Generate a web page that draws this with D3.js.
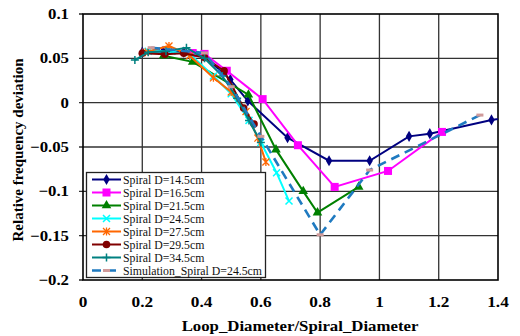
<!DOCTYPE html>
<html><head><meta charset="utf-8">
<script src="https://cdn.jsdelivr.net/npm/d3@7"></script>
<style>body{margin:0;background:#fff} text{font-family:"Liberation Serif","Times New Roman",Tinos,serif}</style>
</head><body><svg id="c" width="520" height="336"></svg>
<script>
const xTicks = [0, 0.2, 0.4, 0.6, 0.8, 1, 1.2, 1.4];
const yTicks = [0.1, 0.05, 0, -0.05, -0.1, -0.15, -0.2];
const seriesNames = ["Spiral D=14.5cm","Spiral D=16.5cm","Spiral D=21.5cm","Spiral D=24.5cm","Spiral D=27.5cm","Spiral D=29.5cm","Spiral D=34.5cm","Simulation_Spiral D=24.5cm"];
const s145x = [0.2, 0.27, 0.34, 0.41, 0.497, 0.556, 0.69, 0.83, 0.967, 1.10, 1.17, 1.378, 1.45];
const s145y = [0.057, 0.058, 0.057, 0.052, 0.026, 0.002, -0.0395, -0.0655, -0.0655, -0.038, -0.035, -0.0195, -0.016];
const s165x = [0.37, 0.41, 0.485, 0.606, 0.725, 0.849, 1.029, 1.211];
const s165y = [0.056, 0.055, 0.036, 0.004, -0.048, -0.095, -0.077, -0.033];
const s215x = [0.272, 0.37, 0.558, 0.651, 0.743, 0.791, 0.93];
const s215y = [0.053, 0.046, 0.009, -0.053, -0.1, -0.124, -0.095];
const s245x = [0.22, 0.3, 0.37, 0.44, 0.5, 0.56, 0.6, 0.653, 0.695];
const s245y = [0.058, 0.058, 0.052, 0.03, 0.01, -0.02, -0.045, -0.079, -0.111];
const s275x = [0.21, 0.29, 0.36, 0.44, 0.5, 0.55, 0.59, 0.617];
const s275y = [0.057, 0.064, 0.053, 0.028, 0.012, -0.01, -0.04, -0.067];
const s295x = [0.2, 0.276, 0.34, 0.41, 0.476, 0.542, 0.577];
const s295y = [0.0557, 0.0546, 0.0557, 0.051, 0.0358, -0.006, -0.024];
const s345x = [0.175, 0.22, 0.28, 0.349, 0.41, 0.47, 0.52, 0.56, 0.6];
const s345y = [0.048, 0.057, 0.058, 0.062, 0.05, 0.03, 0.005, -0.02, -0.045];
const simx = [0.23, 0.41, 0.5, 0.6, 0.8, 0.967, 1.339];
const simy = [0.062, 0.056, 0.018, -0.038, -0.149, -0.076, -0.014];

const colors = ["#000080","#FF00FF","#008000","#00FFFF","#FF6600","#800000","#008080","#1F7AC0"];
const shapes = ["diamond","square","triangle","x","asterisk","circle","plus","dash"];
const xs = [s145x,s165x,s215x,s245x,s275x,s295x,s345x,simx];
const ys = [s145y,s165y,s215y,s245y,s275y,s295y,s345y,simy];

const svg = d3.select("#c");
const L = 83, R = 498, T = 14, B = 280;
const x = d3.scaleLinear().domain([0, 1.4]).range([L, R]);
const y = d3.scaleLinear().domain([-0.2, 0.1]).range([B, T]);

// grid
const g = svg.append("g");
g.selectAll(".gx").data(xTicks.slice(1, -1)).join("line")
  .attr("x1", d => x(d)).attr("x2", d => x(d)).attr("y1", T).attr("y2", B)
  .attr("stroke", "#333").attr("stroke-width", 1.3);
g.selectAll(".gy").data(yTicks.slice(1, -1)).join("line")
  .attr("x1", L - 4).attr("x2", R).attr("y1", d => y(d)).attr("y2", d => y(d))
  .attr("stroke", "#333").attr("stroke-width", 1.3);
g.selectAll(".ty").data([0.1, -0.2]).join("line")
  .attr("x1", L - 4).attr("x2", L).attr("y1", d => y(d)).attr("y2", d => y(d))
  .attr("stroke", "#000").attr("stroke-width", 1.3);
g.append("rect").attr("x", L).attr("y", T).attr("width", R - L).attr("height", B - T)
  .attr("fill", "none").attr("stroke", "#000").attr("stroke-width", 1.6);

// axis labels (reference text is stretched horizontally)
svg.selectAll(".xl").data(xTicks).join("text")
  .attr("transform", d => `translate(${x(d)},307) scale(1.15,1)`).attr("text-anchor", "middle")
  .attr("font-weight", "bold").attr("font-size", 15)
  .text(d => d3.format("")(d));
svg.selectAll(".yl").data(yTicks).join("text")
  .attr("transform", d => `translate(69,${y(d) + 5}) scale(1.12,1)`).attr("text-anchor", "end")
  .attr("font-weight", "bold").attr("font-size", 15)
  .text(d => d3.format("")(d));
svg.append("text").attr("transform", `translate(300,331) scale(1.12,1)`).attr("text-anchor", "middle")
  .attr("font-weight", "bold").attr("font-size", 15)
  .text("Loop_Diameter/Spiral_Diameter");
svg.append("text").attr("transform", `translate(23,${(T + B) / 2 + 3}) rotate(-90)`)
  .attr("text-anchor", "middle")
  .attr("font-weight", "bold").attr("font-size", 15)
  .text("Relative frequency deviation");

svg.append("clipPath").attr("id", "clip").append("rect")
  .attr("x", L).attr("y", T).attr("width", R - L).attr("height", B - T);

function marker(sel, shape, color) {
  if (shape === "diamond") sel.append("path").attr("d", d3.symbol(d3.symbolDiamond, 36)()).attr("fill", color);
  else if (shape === "square") sel.append("rect").attr("x", -4).attr("y", -4).attr("width", 8).attr("height", 8).attr("fill", color);
  else if (shape === "triangle") sel.append("path").attr("d", d3.symbol(d3.symbolTriangle, 40)()).attr("fill", color);
  else if (shape === "circle") sel.append("circle").attr("r", 3.8).attr("fill", color);
  else if (shape === "x") sel.append("path").attr("d", "M-3.5,-3.5L3.5,3.5M-3.5,3.5L3.5,-3.5").attr("stroke", color).attr("stroke-width", 1.5);
  else if (shape === "plus") sel.append("path").attr("d", "M-4,0L4,0M0,-4L0,4").attr("stroke", color).attr("stroke-width", 1.5);
  else if (shape === "asterisk") sel.append("path").attr("d", "M-3.5,-3.5L3.5,3.5M-3.5,3.5L3.5,-3.5M0,-4L0,4").attr("stroke", color).attr("stroke-width", 1.3);
  else if (shape === "dash") sel.append("rect").attr("x", -3.5).attr("y", -1.5).attr("width", 7).attr("height", 3).attr("fill", "#D09A9A");
}

const line = d3.line().x(d => x(d[0])).y(d => y(d[1]));
const plot = svg.append("g").attr("clip-path", "url(#clip)");
xs.forEach((xa, i) => {
  const pts = xa.map((v, j) => [v, ys[i][j]]);
  plot.append("path").attr("d", line(pts)).attr("fill", "none")
    .attr("stroke", colors[i]).attr("stroke-width", i === 7 ? 2.6 : 2)
    .attr("stroke-dasharray", i === 7 ? "9,6" : null);
  pts.forEach(p => {
    const m = plot.append("g").attr("transform", `translate(${x(p[0])},${y(p[1])})`);
    marker(m, shapes[i], colors[i]);
  });
});

// legend
const lg = svg.append("g");
lg.append("rect").attr("x", 86.5).attr("y", 172.5).attr("width", 179).attr("height", 105)
  .attr("fill", "#fff").attr("stroke", "#222").attr("stroke-width", 1.3);
seriesNames.forEach((n, i) => {
  const yy = 179.5 + i * 13;
  lg.append("line").attr("x1", 92).attr("x2", 121).attr("y1", yy).attr("y2", yy)
    .attr("stroke", colors[i]).attr("stroke-width", i === 7 ? 2.6 : 2)
    .attr("stroke-dasharray", i === 7 ? "9,6" : null);
  const m = lg.append("g").attr("transform", `translate(106.5,${yy})`);
  marker(m, shapes[i], colors[i]);
  lg.append("text").attr("x", 123).attr("y", yy + 4.2)
    .attr("font-size", 11.8).attr("fill", "#111").text(n);
});
</script></body></html>
